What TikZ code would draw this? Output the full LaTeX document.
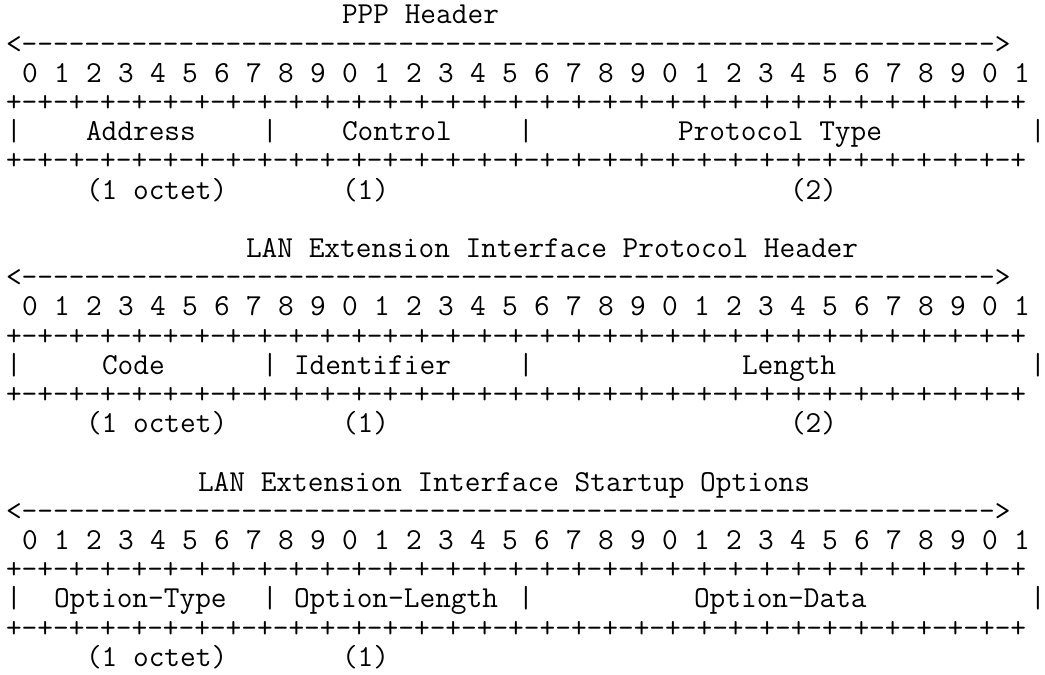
\documentclass[tikz,border=0pt]{standalone}
\tikzset{
  tt/.style={inner sep=0pt, outer sep=0pt, anchor=base west,
    font=\fontsize{30.476}{34}\selectfont\ttfamily},
}
\newcommand\tok[4]{\node[tt] (#1) at ({6+16*(#2)},{23.8+29.2*((#3)-1)}) {#4};}
\newcommand\arrowtxt{<\foreach\i in {1,...,62}{-\kern0pt}>}
\newcommand\bordertxt{+\foreach\i in {1,...,32}{-+}}
\newcommand\digitrow[2]{%
  \foreach \k in {0,...,31}{%
    \pgfmathtruncatemacro\dg{mod(\k,10)}%
    \node[tt] (#1\k) at ({6+16*(2*\k+1)},{23.8+29.2*((#2)-1)}) {\dg};}}
\begin{document}
\begin{tikzpicture}[x=1pt,y=-1pt]
\useasboundingbox[fill=white] (0,0) rectangle (1045,675);
% ---- PPP Header
\tok{titleA}{21}{1}{PPP Header}
\tok{arrowA}{0}{2}{\arrowtxt}
\digitrow{dA}{3}
\tok{topA}{0}{4}{\bordertxt}
\tok{barA0}{0}{5}{|}
\tok{addr}{5}{5}{Address}
\tok{barA1}{16}{5}{|}
\tok{ctrl}{21}{5}{Control}
\tok{barA2}{32}{5}{|}
\tok{ptype}{42}{5}{Protocol Type}
\tok{barA3}{64}{5}{|}
\tok{botA}{0}{6}{\bordertxt}
\tok{szA1}{5}{7}{(1 octet)}
\tok{szA2}{21}{7}{(1)}
\tok{szA3}{49}{7}{(2)}
% ---- LAN Extension Interface Protocol Header
\tok{titleB}{15}{9}{LAN Extension Interface Protocol Header}
\tok{arrowB}{0}{10}{\arrowtxt}
\digitrow{dB}{11}
\tok{topB}{0}{12}{\bordertxt}
\tok{barB0}{0}{13}{|}
\tok{code}{6}{13}{Code}
\tok{barB1}{16}{13}{|}
\tok{ident}{18}{13}{Identifier}
\tok{barB2}{32}{13}{|}
\tok{len}{46}{13}{Length}
\tok{barB3}{64}{13}{|}
\tok{botB}{0}{14}{\bordertxt}
\tok{szB1}{5}{15}{(1 octet)}
\tok{szB2}{21}{15}{(1)}
\tok{szB3}{49}{15}{(2)}
% ---- LAN Extension Interface Startup Options
\tok{titleC}{12}{17}{LAN Extension Interface Startup Options}
\tok{arrowC}{0}{18}{\arrowtxt}
\digitrow{dC}{19}
\tok{topC}{0}{20}{\bordertxt}
\tok{barC0}{0}{21}{|}
\tok{otype}{3}{21}{Option-Type}
\tok{barC1}{16}{21}{|}
\tok{olen}{18}{21}{Option-Length}
\tok{barC2}{32}{21}{|}
\tok{odata}{43}{21}{Option-Data}
\tok{barC3}{64}{21}{|}
\tok{botC}{0}{22}{\bordertxt}
\tok{szC1}{5}{23}{(1 octet)}
\tok{szC2}{21}{23}{(1)}
\end{tikzpicture}
\end{document}
